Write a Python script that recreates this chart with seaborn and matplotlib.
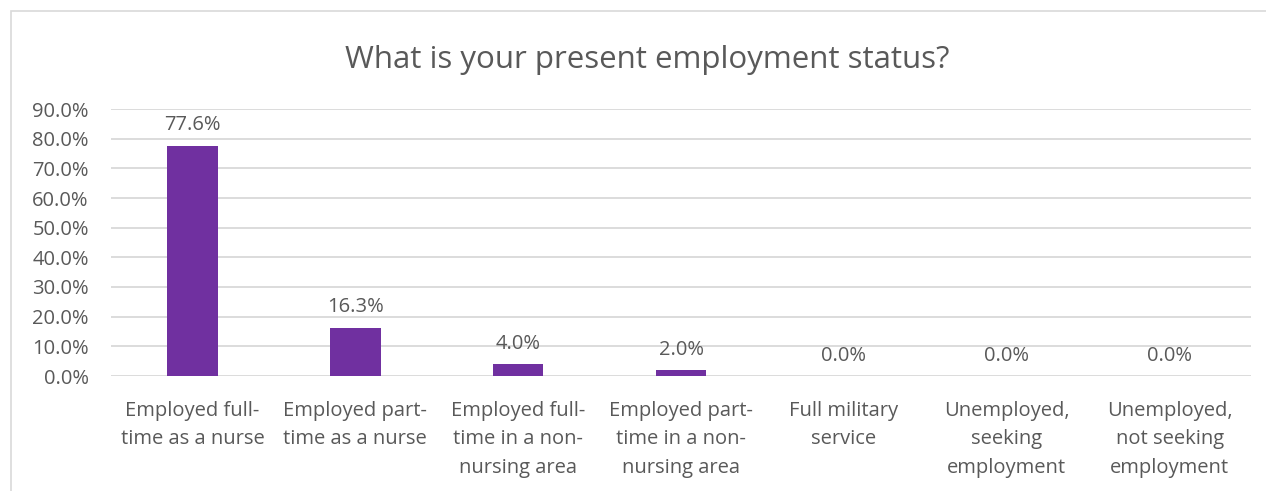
import matplotlib
matplotlib.use("Agg")
import matplotlib.pyplot as plt
import seaborn as sns
import pandas as pd
from matplotlib.patches import Rectangle
from matplotlib.ticker import FuncFormatter

categories = [
    "Employed full-\ntime as a nurse",
    "Employed part-\ntime as a nurse",
    "Employed full-\ntime in a non-\nnursing area",
    "Employed part-\ntime in a non-\nnursing area",
    "Full military\nservice",
    "Unemployed,\nseeking\nemployment",
    "Unemployed,\nnot seeking\nemployment",
]
values = [77.6, 16.3, 4.0, 2.0, 0.0, 0.0, 0.0]
title = "What is your present employment status?"

sns.set_theme(style="white")
plt.rcParams["font.family"] = ["Open Sans", "DejaVu Sans"]

TXT = "#595959"
GRID = "#d9d9d9"
BAR = "#7030A0"

fig = plt.figure(figsize=(12.66, 4.91), dpi=100)
ax = fig.add_axes([111/1266, (491-376)/491, (1251-111)/1266, (376-109)/491])

df = pd.DataFrame({"cat": categories, "val": values})
sns.barplot(data=df, x="cat", y="val", color=BAR, width=0.31, ax=ax,
            saturation=1, edgecolor="none")

ax.set_ylim(0, 90)
ax.set_yticks(range(0, 91, 10))
ax.yaxis.set_major_formatter(FuncFormatter(lambda v, p: f"{v:.1f}%"))
ax.grid(axis="y", color=GRID, linewidth=1.3)
ax.set_axisbelow(True)
for s in ax.spines.values():
    s.set_visible(False)
ax.set_xlabel("")
ax.set_ylabel("")
ax.tick_params(axis="y", labelsize=14.5, colors=TXT, length=0, pad=16)
ax.tick_params(axis="x", labelsize=14.5, colors=TXT, length=0, pad=18)
for lbl in ax.get_xticklabels():
    lbl.set_linespacing(1.56)

for c in ax.containers:
    ax.bar_label(c, labels=[f"{v:.1f}%" for v in values], padding=7.5,
                 fontsize=14.5, color=TXT)

fig.text(647/1266, 1 - 60/491, title, ha="center", va="center",
         fontsize=22.5, color=TXT)

fig.patches.append(Rectangle((11/1266, -0.1), 2, 1.1 - 11/491,
                             transform=fig.transFigure, fill=False,
                             edgecolor=GRID, linewidth=1.2))

fig.savefig("out.png", dpi=100)
